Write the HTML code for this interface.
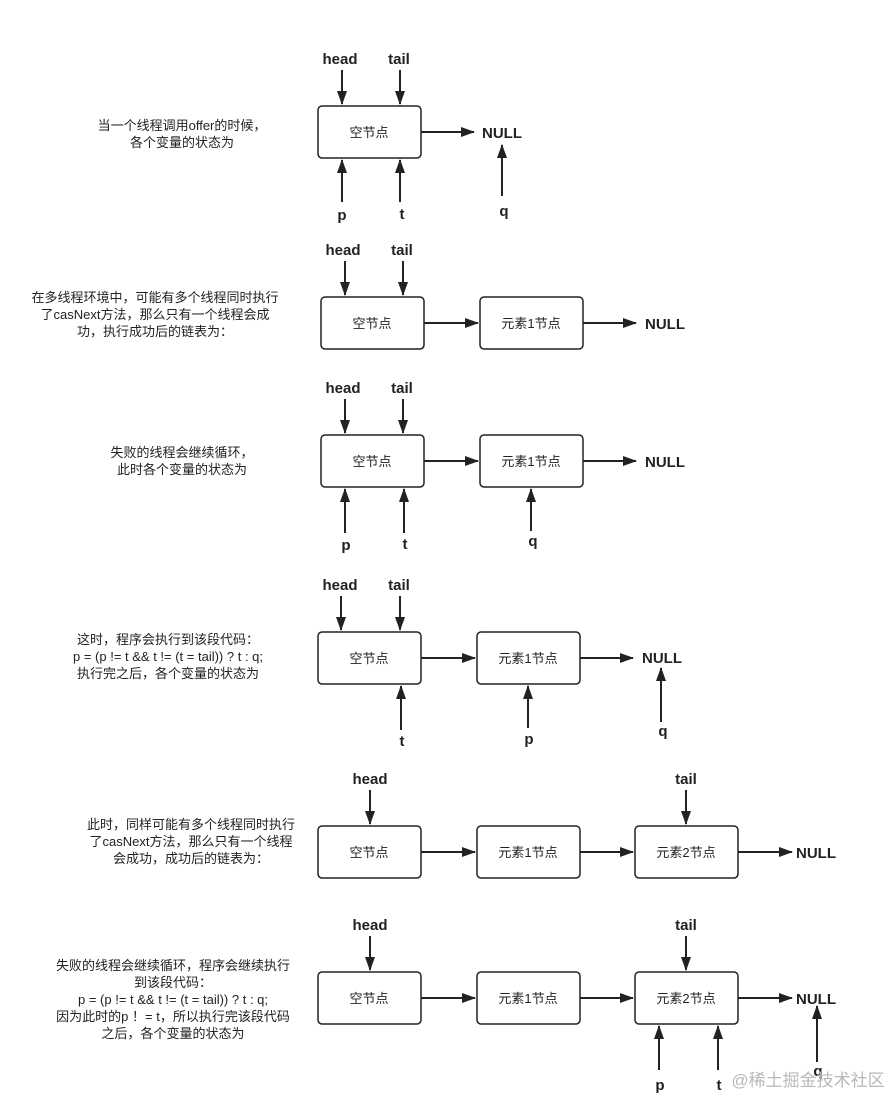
<!DOCTYPE html>
<html><head><meta charset="utf-8"><style>
html,body{margin:0;padding:0;background:#fff;}
svg{display:block;}
.c{font-family:"Liberation Sans","Noto Sans CJK SC",sans-serif;font-size:13px;fill:#222;text-anchor:middle;}
.b{font-family:"Liberation Sans","Noto Sans CJK SC",sans-serif;font-size:15px;font-weight:bold;fill:#222;text-anchor:middle;}
.n{font-family:"Liberation Sans","Noto Sans CJK SC",sans-serif;font-size:13px;fill:#222;text-anchor:middle;}
rect{fill:#fff;stroke:#222;stroke-width:1.5;}
line{stroke:#222;stroke-width:2;marker-end:url(#a);}
</style></head><body>
<svg width="895" height="1097" viewBox="0 0 895 1097" xmlns="http://www.w3.org/2000/svg">
<defs><marker id="a" markerWidth="14" markerHeight="10" refX="13" refY="5" orient="auto" markerUnits="userSpaceOnUse"><path d="M0,0 L14,5 L0,10 Z" fill="#222"/></marker></defs>

<!-- Section 1 -->
<text class="c" x="182" y="130">当一个线程调用offer的时候，</text>
<text class="c" x="182" y="147">各个变量的状态为</text>
<text class="b" x="340" y="64">head</text><text class="b" x="399" y="64">tail</text>
<line x1="342" y1="70" x2="342" y2="104"/><line x1="400" y1="70" x2="400" y2="104"/>
<rect x="318" y="106" width="103" height="52" rx="4"/>
<text class="n" x="369" y="137">空节点</text>
<line x1="421" y1="132" x2="474" y2="132"/>
<text class="b" x="502" y="138">NULL</text>
<line x1="342" y1="202" x2="342" y2="160"/><line x1="400" y1="202" x2="400" y2="160"/>
<line x1="502" y1="196" x2="502" y2="145"/>
<text class="b" x="342" y="220">p</text><text class="b" x="402" y="219">t</text><text class="b" x="504" y="216">q</text>

<!-- Section 2 -->
<text class="c" x="155" y="302">在多线程环境中，可能有多个线程同时执行</text>
<text class="c" x="155" y="319">了casNext方法，那么只有一个线程会成</text>
<text class="c" x="155" y="336">功，执行成功后的链表为：</text>
<text class="b" x="343" y="255">head</text><text class="b" x="402" y="255">tail</text>
<line x1="345" y1="261" x2="345" y2="295"/><line x1="403" y1="261" x2="403" y2="295"/>
<rect x="321" y="297" width="103" height="52" rx="4"/>
<text class="n" x="372" y="328">空节点</text>
<line x1="424" y1="323" x2="478" y2="323"/>
<rect x="480" y="297" width="103" height="52" rx="4"/>
<text class="n" x="531" y="328">元素1节点</text>
<line x1="583" y1="323" x2="636" y2="323"/>
<text class="b" x="665" y="329">NULL</text>

<!-- Section 3 -->
<text class="c" x="182" y="457">失败的线程会继续循环，</text>
<text class="c" x="182" y="474">此时各个变量的状态为</text>
<text class="b" x="343" y="393">head</text><text class="b" x="402" y="393">tail</text>
<line x1="345" y1="399" x2="345" y2="433"/><line x1="403" y1="399" x2="403" y2="433"/>
<rect x="321" y="435" width="103" height="52" rx="4"/>
<text class="n" x="372" y="466">空节点</text>
<line x1="424" y1="461" x2="478" y2="461"/>
<rect x="480" y="435" width="103" height="52" rx="4"/>
<text class="n" x="531" y="466">元素1节点</text>
<line x1="583" y1="461" x2="636" y2="461"/>
<text class="b" x="665" y="467">NULL</text>
<line x1="345" y1="533" x2="345" y2="489"/><line x1="404" y1="533" x2="404" y2="489"/>
<line x1="531" y1="531" x2="531" y2="489"/>
<text class="b" x="346" y="550">p</text><text class="b" x="405" y="549">t</text><text class="b" x="533" y="546">q</text>

<!-- Section 4 -->
<text class="c" x="168" y="644">这时，程序会执行到该段代码：</text>
<text class="c" x="168" y="661">p = (p != t &amp;&amp; t != (t = tail)) ? t : q;</text>
<text class="c" x="168" y="678">执行完之后，各个变量的状态为</text>
<text class="b" x="340" y="590">head</text><text class="b" x="399" y="590">tail</text>
<line x1="341" y1="596" x2="341" y2="630"/><line x1="400" y1="596" x2="400" y2="630"/>
<rect x="318" y="632" width="103" height="52" rx="4"/>
<text class="n" x="369" y="663">空节点</text>
<line x1="421" y1="658" x2="475" y2="658"/>
<rect x="477" y="632" width="103" height="52" rx="4"/>
<text class="n" x="528" y="663">元素1节点</text>
<line x1="580" y1="658" x2="633" y2="658"/>
<text class="b" x="662" y="663">NULL</text>
<line x1="401" y1="730" x2="401" y2="686"/><line x1="528" y1="728" x2="528" y2="686"/>
<line x1="661" y1="722" x2="661" y2="668"/>
<text class="b" x="402" y="746">t</text><text class="b" x="529" y="744">p</text><text class="b" x="663" y="736">q</text>

<!-- Section 5 -->
<text class="c" x="191" y="829">此时，同样可能有多个线程同时执行</text>
<text class="c" x="191" y="846">了casNext方法，那么只有一个线程</text>
<text class="c" x="191" y="863">会成功，成功后的链表为：</text>
<text class="b" x="370" y="784">head</text><text class="b" x="686" y="784">tail</text>
<line x1="370" y1="790" x2="370" y2="824"/><line x1="686" y1="790" x2="686" y2="824"/>
<rect x="318" y="826" width="103" height="52" rx="4"/>
<text class="n" x="369" y="857">空节点</text>
<line x1="421" y1="852" x2="475" y2="852"/>
<rect x="477" y="826" width="103" height="52" rx="4"/>
<text class="n" x="528" y="857">元素1节点</text>
<line x1="580" y1="852" x2="633" y2="852"/>
<rect x="635" y="826" width="103" height="52" rx="4"/>
<text class="n" x="686" y="857">元素2节点</text>
<line x1="738" y1="852" x2="792" y2="852"/>
<text class="b" x="816" y="858">NULL</text>

<!-- Section 6 -->
<text class="c" x="173" y="970">失败的线程会继续循环，程序会继续执行</text>
<text class="c" x="173" y="987">到该段代码：</text>
<text class="c" x="173" y="1004">p = (p != t &amp;&amp; t != (t = tail)) ? t : q;</text>
<text class="c" x="173" y="1021">因为此时的p ！= t，所以执行完该段代码</text>
<text class="c" x="173" y="1038">之后，各个变量的状态为</text>
<text class="b" x="370" y="930">head</text><text class="b" x="686" y="930">tail</text>
<line x1="370" y1="936" x2="370" y2="970"/><line x1="686" y1="936" x2="686" y2="970"/>
<rect x="318" y="972" width="103" height="52" rx="4"/>
<text class="n" x="369" y="1003">空节点</text>
<line x1="421" y1="998" x2="475" y2="998"/>
<rect x="477" y="972" width="103" height="52" rx="4"/>
<text class="n" x="528" y="1003">元素1节点</text>
<line x1="580" y1="998" x2="633" y2="998"/>
<rect x="635" y="972" width="103" height="52" rx="4"/>
<text class="n" x="686" y="1003">元素2节点</text>
<line x1="738" y1="998" x2="792" y2="998"/>
<text class="b" x="816" y="1004">NULL</text>
<line x1="659" y1="1070" x2="659" y2="1026"/><line x1="718" y1="1070" x2="718" y2="1026"/>
<line x1="817" y1="1062" x2="817" y2="1006"/>
<text class="b" x="660" y="1090">p</text><text class="b" x="719" y="1090">t</text><text class="b" x="818" y="1076">q</text>
<text x="808" y="1086" style="font-family:'Liberation Sans','Noto Sans CJK SC',sans-serif;font-size:17px;fill:#b8b8b8;text-anchor:middle;">@稀土掘金技术社区</text>
</svg>
</body></html>
